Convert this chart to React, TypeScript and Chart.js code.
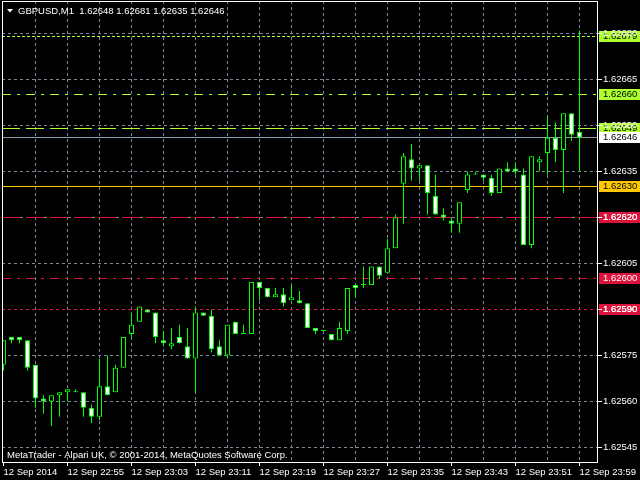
import React, { useEffect, useRef } from 'react';
import { Chart, registerables } from 'chart.js';

Chart.register(...registerables);

// ---------- data ----------
const symbolTitle = 'GBPUSD,M1';
const headerQuote = [1.62648, 1.62681, 1.62635, 1.62646];
const copyrightText = 'MetaTrader - Alpari UK, \u00a9 2001-2014, MetaQuotes Software Corp.';

const openPrices = [
  1.62572, 1.62581, 1.62581, 1.62580, 1.62572, 1.62561, 1.62560, 1.62562, 1.62563, 1.62563,
  1.62563, 1.62558, 1.62555, 1.62565, 1.62563, 1.62571, 1.62582, 1.62586, 1.62590, 1.62589,
  1.62580, 1.62578, 1.62581, 1.62578, 1.62574, 1.62589, 1.62588, 1.62578, 1.62575, 1.62586,
  1.62582, 1.62582, 1.62599, 1.62597, 1.62594, 1.62595, 1.62593, 1.62593, 1.62592, 1.62584,
  1.62583, 1.62582, 1.62580, 1.62583, 1.62598, 1.62598, 1.62598, 1.62604, 1.62602, 1.62610,
  1.62631, 1.62639, 1.62636, 1.62637, 1.62627, 1.62621, 1.62619, 1.62618, 1.62629, 1.62634,
  1.62634, 1.62633, 1.62628, 1.62636, 1.62636, 1.62634, 1.62611, 1.62638, 1.62641, 1.62646,
  1.62642, 1.62654, 1.62648,
];
const highPrices = [
  1.62580, 1.62581, 1.62581, 1.62580, 1.62572, 1.62562, 1.62562, 1.62563, 1.62564, 1.62564,
  1.62563, 1.62559, 1.62574, 1.62575, 1.62572, 1.62581, 1.62589, 1.62591, 1.62590, 1.62589,
  1.62583, 1.62584, 1.62585, 1.62584, 1.62591, 1.62589, 1.62590, 1.62580, 1.62585, 1.62586,
  1.62585, 1.62599, 1.62599, 1.62597, 1.62597, 1.62597, 1.62598, 1.62596, 1.62592, 1.62584,
  1.62583, 1.62582, 1.62586, 1.62597, 1.62598, 1.62604, 1.62604, 1.62604, 1.62613, 1.62621,
  1.62641, 1.62644, 1.62637, 1.62637, 1.62634, 1.62623, 1.62620, 1.62625, 1.62635, 1.62635,
  1.62634, 1.62634, 1.62636, 1.62638, 1.62638, 1.62636, 1.62640, 1.62640, 1.62653, 1.62651,
  1.62654, 1.62654, 1.62681,
];
const lowPrices = [
  1.62570, 1.62579, 1.62579, 1.62570, 1.62558, 1.62556, 1.62552, 1.62555, 1.62560, 1.62563,
  1.62555, 1.62553, 1.62554, 1.62562, 1.62563, 1.62571, 1.62581, 1.62586, 1.62589, 1.62579,
  1.62578, 1.62577, 1.62579, 1.62574, 1.62563, 1.62588, 1.62576, 1.62575, 1.62574, 1.62582,
  1.62582, 1.62582, 1.62593, 1.62594, 1.62594, 1.62591, 1.62593, 1.62592, 1.62584, 1.62582,
  1.62583, 1.62580, 1.62580, 1.62582, 1.62594, 1.62597, 1.62598, 1.62600, 1.62602, 1.62610,
  1.62618, 1.62632, 1.62632, 1.62621, 1.62621, 1.62619, 1.62615, 1.62615, 1.62628, 1.62634,
  1.62632, 1.62627, 1.62628, 1.62635, 1.62634, 1.62611, 1.62610, 1.62635, 1.62634, 1.62638,
  1.62628, 1.62645, 1.62635,
];
const closePrices = [
  1.62580, 1.62580, 1.62580, 1.62571, 1.62561, 1.62560, 1.62562, 1.62563, 1.62564, 1.62563,
  1.62558, 1.62555, 1.62565, 1.62562, 1.62571, 1.62581, 1.62585, 1.62591, 1.62589, 1.62581,
  1.62579, 1.62579, 1.62579, 1.62574, 1.62589, 1.62588, 1.62577, 1.62575, 1.62585, 1.62582,
  1.62582, 1.62599, 1.62597, 1.62594, 1.62595, 1.62592, 1.62594, 1.62592, 1.62584, 1.62583,
  1.62583, 1.62580, 1.62584, 1.62597, 1.62597, 1.62598, 1.62604, 1.62601, 1.62610, 1.62620,
  1.62640, 1.62636, 1.62637, 1.62628, 1.62621, 1.62620, 1.62618, 1.62625, 1.62634, 1.62634,
  1.62633, 1.62628, 1.62636, 1.62635, 1.62635, 1.62611, 1.62640, 1.62639, 1.62646, 1.62642,
  1.62654, 1.62647, 1.62646,
];

const timeLabels = [
  '12 Sep 2014', '12 Sep 22:55', '12 Sep 23:03', '12 Sep 23:11', '12 Sep 23:19',
  '12 Sep 23:27', '12 Sep 23:35', '12 Sep 23:43', '12 Sep 23:51', '12 Sep 23:59',
];
const barsPerTimeLabel = 8;
const barsPerGridLine = 4;

const priceTicks = [1.62545, 1.6256, 1.62575, 1.6259, 1.62605, 1.6262, 1.62635, 1.6265, 1.62665, 1.6268];

const levelPrices = [1.62679, 1.6266, 1.62649, 1.62646, 1.6263, 1.6262, 1.626, 1.6259];

// ---------- styles ----------
const BG = '#000000';
const CANDLE = '#00FF00';
const BULL_FILL = '#000000';
const BEAR_FILL = '#FFFFFF';
const GRID = '#778899';
const AXIS = '#FFFFFF';
const FONT = "'Liberation Sans', Arial, sans-serif";
const FONT_SIZE = 9.5;
const CLEAR = 'rgba(0,0,0,0)';

const YG = '#ADFF2F';
const GOLD = '#FFC800';
const RED = '#DC143C';
const levelColors = [YG, YG, YG, '#8C9BAA', GOLD, RED, RED, RED];
const levelBoxColors = [YG, YG, YG, '#FFFFFF', GOLD, RED, RED, RED];
const levelTextColors = ['#000000', '#000000', '#000000', '#000000', '#000000', '#FFFFFF', '#FFFFFF', '#FFFFFF'];
const levelDashes = [[3, 2], [9, 6, 3, 6], [18, 6], [], [], [18, 6], [9, 6, 3, 6], [3, 3]];

const X_MIN = -0.1875;
const X_MAX = 74.1875;
const Y_MIN = 1.6254027;
const Y_MAX = 1.626906;

const mt4Plugin = {
  id: 'mt4Decor',
  beforeDraw(chart: any) {
    const { ctx, chartArea, scales } = chart;
    ctx.save();
    ctx.font = `${FONT_SIZE}px ${FONT}`;
    ctx.textBaseline = 'middle';
    ctx.textAlign = 'left';
    levelPrices.forEach((p, i) => {
      const py = Math.round(scales.y.getPixelForValue(p) - 0.5);
      ctx.fillStyle = levelBoxColors[i];
      ctx.fillRect(chartArea.right + 2, py - 5, 41, 11);
      ctx.fillStyle = levelTextColors[i];
      ctx.fillText(p.toFixed(5), chartArea.right + 6, py + 0.5);
    });
    ctx.restore();
  },
  beforeDatasetsDraw(chart: any) {
    const { ctx, chartArea, scales } = chart;
    ctx.save();
    ctx.beginPath();
    ctx.rect(chartArea.left, chartArea.top, chartArea.right - chartArea.left, chartArea.bottom - chartArea.top);
    ctx.clip();
    levelPrices.forEach((p, i) => {
      const py = Math.round(scales.y.getPixelForValue(p) - 0.5) + 0.5;
      ctx.strokeStyle = levelColors[i];
      ctx.lineWidth = 1;
      ctx.setLineDash(levelDashes[i]);
      ctx.beginPath();
      ctx.moveTo(chartArea.left, py);
      ctx.lineTo(chartArea.right, py);
      ctx.stroke();
    });
    ctx.restore();
  },
  afterDraw(chart: any) {
    const { ctx, chartArea } = chart;
    ctx.save();
    ctx.fillStyle = AXIS;
    ctx.fillRect(chartArea.left, chartArea.top, 1, chartArea.bottom - chartArea.top);
    ctx.fillRect(chartArea.left, chartArea.top, chartArea.right - chartArea.left, 1);
    ctx.beginPath();
    ctx.moveTo(7, 9);
    ctx.lineTo(13, 9);
    ctx.lineTo(10, 12.5);
    ctx.closePath();
    ctx.fill();
    ctx.font = `${FONT_SIZE}px ${FONT}`;
    ctx.textBaseline = 'middle';
    ctx.textAlign = 'left';
    ctx.fillText(`${symbolTitle}  ${headerQuote.map((v) => v.toFixed(5)).join(' ')}`, 18, 11);
    ctx.fillText(copyrightText, 7, 455);
    ctx.restore();
  },
};

export default function App() {
  const ref = useRef<HTMLCanvasElement>(null);

  useEffect(() => {
    document.body.style.margin = '0';
    document.body.style.background = BG;
    const n = openPrices.length;
    const bodyData = openPrices.map((o, i) => ({ x: i, y: [o, closePrices[i]] }));
    const wickData = lowPrices.map((l, i) => ({ x: i, y: [l, highPrices[i]] }));
    const bodyFill = openPrices.map((o, i) =>
      closePrices[i] > o ? BULL_FILL : closePrices[i] < o ? BEAR_FILL : CANDLE
    );
    const xTickValues: number[] = [];
    for (let k = 0; k < n; k += barsPerGridLine) xTickValues.push(k);

    const chart = new Chart(ref.current as HTMLCanvasElement, {
      type: 'bar',
      data: {
        datasets: [
          {
            label: 'body',
            data: bodyData as any,
            backgroundColor: bodyFill,
            borderColor: CANDLE,
            borderWidth: 1,
            borderSkipped: false,
            barThickness: 5,
            minBarLength: 1,
            grouped: false,
            inflateAmount: 0,
            order: 0,
          } as any,
          {
            label: 'wick',
            data: wickData as any,
            backgroundColor: CANDLE,
            borderWidth: 0,
            barThickness: 1,
            grouped: false,
            inflateAmount: 0,
            order: 1,
          } as any,
        ],
      },
      options: {
        animation: false,
        responsive: false,
        devicePixelRatio: 1,
        layout: { padding: { left: 2, top: 1, right: 0, bottom: 0 } },
        plugins: { legend: { display: false }, tooltip: { enabled: false } },
        scales: {
          x: {
            type: 'linear',
            min: X_MIN,
            max: X_MAX,
            offset: false,
            afterBuildTicks: (s: any) => {
              s.ticks = xTickValues.map((v) => ({ value: v }));
            },
            afterFit: (s: any) => {
              s.height = 18;
              s.paddingLeft = 0;
              s.paddingRight = 0;
            },
            grid: {
              offset: false,
              drawOnChartArea: true,
              drawTicks: true,
              color: (c: any) => (c.tick && c.tick.value > 0 ? GRID : CLEAR),
              tickColor: (c: any) => (c.tick && c.tick.value % barsPerTimeLabel === 0 ? AXIS : CLEAR),
              tickLength: 4,
              tickWidth: 1,
              tickBorderDash: [],
              lineWidth: 1,
            },
            border: { display: true, color: AXIS, width: 1, dash: [3, 3] },
            ticks: {
              autoSkip: false,
              maxRotation: 0,
              minRotation: 0,
              align: 'start',
              padding: 1,
              color: AXIS,
              font: { family: FONT, size: FONT_SIZE },
              callback: (v: any) => {
                const k = Number(v);
                return k % barsPerTimeLabel === 0 ? timeLabels[k / barsPerTimeLabel] ?? '' : '';
              },
            },
          } as any,
          y: {
            type: 'linear',
            position: 'right',
            min: Y_MIN,
            max: Y_MAX,
            afterBuildTicks: (s: any) => {
              s.ticks = priceTicks.map((v) => ({ value: v }));
            },
            afterFit: (s: any) => {
              s.width = 43;
              s.paddingTop = 0;
              s.paddingBottom = 0;
            },
            grid: {
              drawOnChartArea: true,
              drawTicks: true,
              color: GRID,
              tickColor: AXIS,
              tickLength: 5,
              tickWidth: 1,
              tickBorderDash: [],
              lineWidth: 1,
            },
            border: { display: true, color: AXIS, width: 1, dash: [3, 3] },
            ticks: {
              padding: 1,
              color: AXIS,
              font: { family: FONT, size: FONT_SIZE },
              callback: (v: any) => Number(v).toFixed(5),
            },
          } as any,
        },
      },
      plugins: [mt4Plugin],
    });
    return () => chart.destroy();
  }, []);

  return (
    <div style={{ position: 'fixed', left: 0, top: 0, width: 640, height: 480, background: BG }}>
      <canvas ref={ref} width={640} height={480} style={{ display: 'block', width: 640, height: 480 }} />
    </div>
  );
}
